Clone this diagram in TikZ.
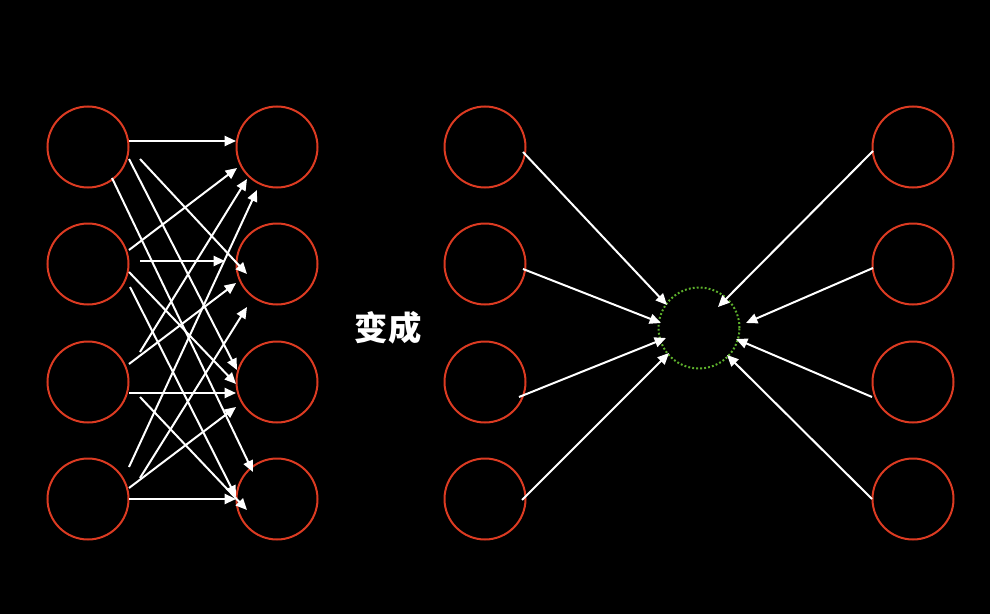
\documentclass[tikz,border=0pt]{standalone}
\usepackage{fontspec}
\newfontfamily\cjk{Noto Sans CJK SC}
\usetikzlibrary{arrows.meta,calc}
\definecolor{nodered}{HTML}{DC3B22}
\definecolor{dotgreen}{HTML}{5DB02C}
\tikzset{
  neuron/.style={circle,draw=nodered,line width=1.5pt,minimum size=60.75pt,inner sep=0pt},
  hub/.style={circle,draw=dotgreen,line width=1.5pt,dash pattern=on 1.4pt off 1.6pt,minimum size=60.75pt,inner sep=0pt},
  arr/.style={draw=white,line width=1.5pt,-{Triangle[length=8.5pt,width=7.5pt]}},
}
\begin{document}
\begin{tikzpicture}[x=0.75pt,y=-0.75pt]
\fill[black] (0,0) rectangle (990,614);
\useasboundingbox (0,0) rectangle (990,614);
% left network
\node[neuron] (L1) at (88,147) {};
\node[neuron] (L2) at (88,264) {};
\node[neuron] (L3) at (88,382) {};
\node[neuron] (L4) at (88,499) {};
\node[neuron] (R1) at (277,147) {};
\node[neuron] (R2) at (277,264) {};
\node[neuron] (R3) at (277,382) {};
\node[neuron] (R4) at (277,499) {};
\draw[arr] ([shift={(41,-6)}]L1.center) -- ([shift={(-41,-6)}]R1.center);
\draw[arr] ([shift={(52,12)}]L1.center) -- ([shift={(-30,10)}]R2.center);
\draw[arr] ([shift={(41,12)}]L1.center) -- ([shift={(-40,-12)}]R3.center);
\draw[arr] ([shift={(24,31)}]L1.center) -- ([shift={(-24,-27)}]R4.center);
\draw[arr] ([shift={(41,-14)}]L2.center) -- ([shift={(-40,21)}]R1.center);
\draw[arr] ([shift={(52,-3)}]L2.center) -- ([shift={(-52,-3)}]R2.center);
\draw[arr] ([shift={(41,8)}]L2.center) -- ([shift={(-41,2)}]R3.center);
\draw[arr] ([shift={(42,23)}]L2.center) -- ([shift={(-41,-2)}]R4.center);
\draw[arr] ([shift={(52,-30)}]L3.center) -- ([shift={(-30,32)}]R1.center);
\draw[arr] ([shift={(41,-18)}]L3.center) -- ([shift={(-41,19)}]R2.center);
\draw[arr] ([shift={(41,11)}]L3.center) -- ([shift={(-41,11)}]R3.center);
\draw[arr] ([shift={(52,15)}]L3.center) -- ([shift={(-30,11)}]R4.center);
\draw[arr] ([shift={(41,-32)}]L4.center) -- ([shift={(-20,43)}]R1.center);
\draw[arr] ([shift={(52,-21)}]L4.center) -- ([shift={(-30,43)}]R2.center);
\draw[arr] ([shift={(41,-11)}]L4.center) -- ([shift={(-41,25)}]R3.center);
\draw[arr] ([shift={(41,0)}]L4.center) -- ([shift={(-41,0)}]R4.center);
% label
\node[text=white,font=\cjk\bfseries\fontsize{25pt}{29pt}\selectfont] (lbl) at (388,328) {变成};
% right network
\node[neuron] (A1) at (485,147) {};
\node[neuron] (A2) at (485,264) {};
\node[neuron] (A3) at (485,382) {};
\node[neuron] (A4) at (485,499) {};
\node[neuron] (B1) at (913,147) {};
\node[neuron] (B2) at (913,264) {};
\node[neuron] (B3) at (913,382) {};
\node[neuron] (B4) at (913,499) {};
\node[hub] (C) at (699,328) {};
\draw[arr] ([shift={(38,5)}]A1.center) -- ([shift={(-32,-23)}]C.center);
\draw[arr] ([shift={(38,5)}]A2.center) -- ([shift={(-38,-5)}]C.center);
\draw[arr] ([shift={(34,15)}]A3.center) -- ([shift={(-33,10)}]C.center);
\draw[arr] ([shift={(37,1)}]A4.center) -- ([shift={(-30,25)}]C.center);
\draw[arr] ([shift={(-40,4)}]B1.center) -- ([shift={(19,-21)}]C.center);
\draw[arr] ([shift={(-40,4)}]B2.center) -- ([shift={(47,-5)}]C.center);
\draw[arr] ([shift={(-41,15)}]B3.center) -- ([shift={(37,11)}]C.center);
\draw[arr] ([shift={(-41,0)}]B4.center) -- ([shift={(28,27)}]C.center);
\end{tikzpicture}
\end{document}
